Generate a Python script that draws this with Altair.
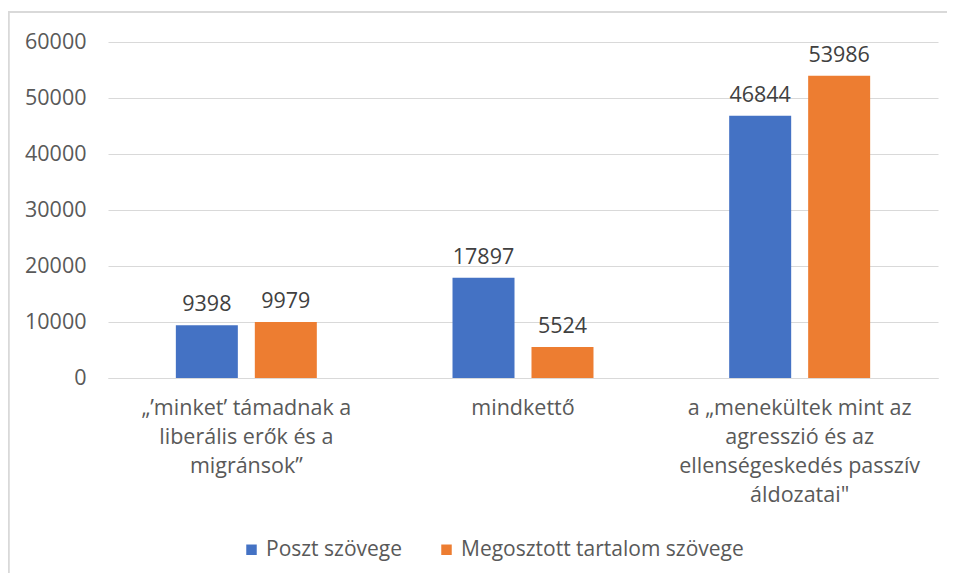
import altair as alt
import pandas as pd

categories = [
    "„’minket’ támadnak a\nliberális erők és a\nmigránsok”",
    "mindkettő",
    "a „menekültek mint az\nagresszió és az\nellenségeskedés passzív\náldozatai\"",
]
series = ["Poszt szövege", "Megosztott tartalom szövege"]
poszt = [9398, 17897, 46844]
megosztott = [9979, 5524, 53986]
y_ticks = [0, 10000, 20000, 30000, 40000, 50000, 60000]
colors = ["#4472C4", "#ED7D31"]

rows = []
for c, a, b in zip(categories, poszt, megosztott):
    rows.append({"cat": c, "series": series[0], "value": a})
    rows.append({"cat": c, "series": series[1], "value": b})
df = pd.DataFrame(rows)

FONT = "Open Sans"
FS = 21.5
W, H = 830, 336

x = alt.X("cat:N", sort=categories,
          scale=alt.Scale(paddingInner=0, paddingOuter=0),
          axis=alt.Axis(title=None, labelAngle=0, labelExpr="split(datum.label, '\\n')",
                        labelFont=FONT, labelFontSize=FS, labelColor="#595959",
                        labelLineHeight=29, labelPadding=19, ticks=False,
                        domainColor="#D9D9D9", labelLimit=400))
xo = alt.XOffset("series:N", sort=series,
                 scale=alt.Scale(domain=series, paddingInner=0.215, paddingOuter=0.859))
y = alt.Y("value:Q", scale=alt.Scale(domain=[0, 60000]),
          axis=alt.Axis(title=None, values=y_ticks, labelFont=FONT, labelFontSize=FS,
                        labelColor="#595959", labelPadding=22, ticks=False, domain=False,
                        gridColor="#D9D9D9", format="d"))

base = alt.Chart(df)
bars = base.mark_bar().encode(
    x=x, xOffset=xo, y=y,
    color=alt.Color("series:N", scale=alt.Scale(domain=series, range=colors),
                    legend=alt.Legend(title=None, orient="none", legendX=133, legendY=497,
                                      direction="horizontal", symbolType="square",
                                      symbolSize=110, symbolStrokeWidth=0, labelFont=FONT,
                                      labelFontSize=21, labelColor="#595959",
                                      columnPadding=33, labelOffset=4, labelLimit=500)),
)
labels = base.mark_text(font=FONT, fontSize=FS, color="#404040", baseline="bottom", dy=-9).encode(
    x=x, xOffset=xo, y=y, text=alt.Text("value:Q", format="d"),
)
border_top = alt.Chart(df).mark_rule(color="#D9D9D9", strokeWidth=1.5, clip=False).encode(
    x=alt.value(-100), x2=alt.value(W + 40), y=alt.value(-30))
border_left = alt.Chart(df).mark_rule(color="#D9D9D9", strokeWidth=1.5, clip=False).encode(
    x=alt.value(-99.5), y=alt.value(-30), y2=alt.value(H + 300))

chart = alt.layer(border_top, border_left, bars, labels).properties(
    width=W, height=H,
    autosize=alt.AutoSizeParams(type="none"),
    padding={"left": 100, "top": 34, "right": 9, "bottom": 195},
).configure_view(stroke=None)

chart.save("out.html", embed_options={"renderer": "svg", "actions": False})
